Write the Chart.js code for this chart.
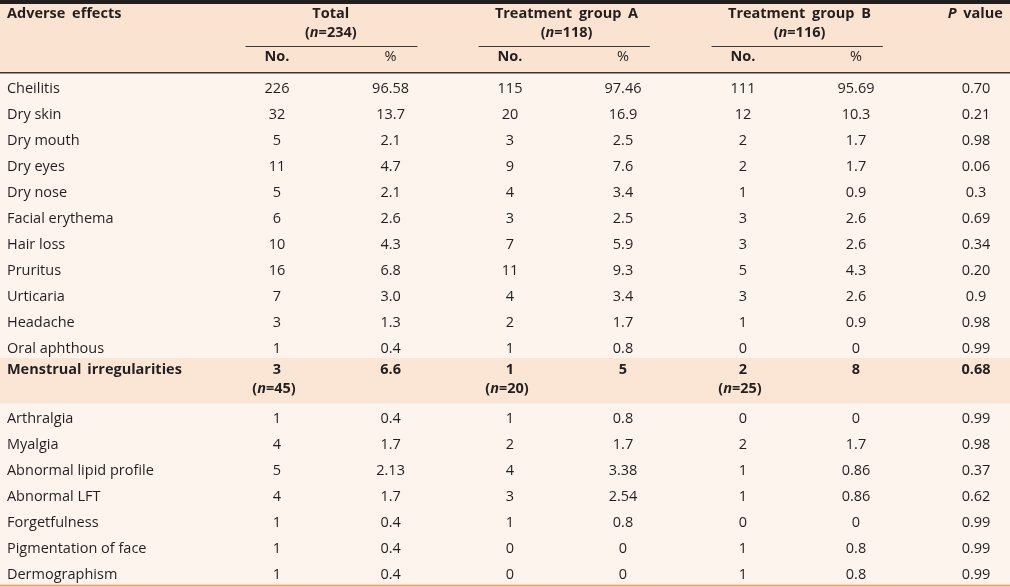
<!DOCTYPE html>
<html>
<head>
<meta charset="utf-8">
<script src="https://cdn.jsdelivr.net/npm/chart.js@4.4.0/dist/chart.umd.min.js"></script>
<style>
  html, body { margin: 0; padding: 0; background: #fdf4ee; }
  #tableChart { display: block; }
</style>
</head>
<body>
<canvas id="tableChart" width="1010" height="587"></canvas>
<script>
// table data
const effects = ['Cheilitis', 'Dry skin', 'Dry mouth', 'Dry eyes', 'Dry nose', 'Facial erythema', 'Hair loss',
  'Pruritus', 'Urticaria', 'Headache', 'Oral aphthous', 'Menstrual irregularities', 'Arthralgia', 'Myalgia',
  'Abnormal lipid profile', 'Abnormal LFT', 'Forgetfulness', 'Pigmentation of face', 'Dermographism'];
const totalNo   = ['226', '32', '5', '11', '5', '6', '10', '16', '7', '3', '1', '3', '1', '4', '5', '4', '1', '1', '1'];
const totalPct  = ['96.58', '13.7', '2.1', '4.7', '2.1', '2.6', '4.3', '6.8', '3.0', '1.3', '0.4', '6.6', '0.4', '1.7', '2.13', '1.7', '0.4', '0.4', '0.4'];
const groupANo  = ['115', '20', '3', '9', '4', '3', '7', '11', '4', '2', '1', '1', '1', '2', '4', '3', '1', '0', '0'];
const groupAPct = ['97.46', '16.9', '2.5', '7.6', '3.4', '2.5', '5.9', '9.3', '3.4', '1.7', '0.8', '5', '0.8', '1.7', '3.38', '2.54', '0.8', '0', '0'];
const groupBNo  = ['111', '12', '2', '2', '1', '3', '3', '5', '3', '1', '0', '2', '0', '2', '1', '1', '0', '1', '1'];
const groupBPct = ['95.69', '10.3', '1.7', '1.7', '0.9', '2.6', '2.6', '4.3', '2.6', '0.9', '0', '8', '0', '1.7', '0.86', '0.86', '0', '0.8', '0.8'];
const pValues   = ['0.70', '0.21', '0.98', '0.06', '0.3', '0.69', '0.34', '0.20', '0.9', '0.98', '0.99', '0.68', '0.99', '0.98', '0.37', '0.62', '0.99', '0.99', '0.99'];
const groupNames = ['Total', 'Treatment group A', 'Treatment group B'];
const groupN     = ['234', '118', '116'];
const subHeads   = ['No.', '%'];
const highlightRow = 11;                 // menstrual irregularities, women only
const highlightN   = ['45', '20', '25']; // n per group for that row

const columns = [effects, totalNo, totalPct, groupANo, groupAPct, groupBNo, groupBPct, pValues];

// layout (scale units: one column step, one row step)
const colX = [-1.318, 1, 1.975, 3, 3.97, 5, 5.97, 7];
const rowPos = [];
let acc = 0;
effects.forEach((_, i) => {
  if (i === highlightRow) { rowPos.push(acc - 0.2); acc += 1.7; }
  else { rowPos.push(acc); acc += 1; }
});
const yMin = -3.385, yMax = yMin + 587 / 26;
const xMin = 1 - 277 / 116.5, xMax = xMin + 1010 / 116.5;

const FONT = '"Open Sans", "Noto Sans", sans-serif';
const INK = '#231f20';

function drawRich(ctx, parts, x, y, align) {
  let w = 0;
  parts.forEach(p => { ctx.font = p.f; w += ctx.measureText(p.t).width; });
  let cx = align === 'center' ? x - w / 2 : align === 'right' ? x - w : x;
  ctx.textAlign = 'left';
  parts.forEach(p => { ctx.font = p.f; ctx.fillText(p.t, cx, y); cx += ctx.measureText(p.t).width; });
}

const tablePlugin = {
  id: 'tablePlugin',
  beforeDraw(chart) {
    const { ctx, scales: { x, y } } = chart;
    ctx.save();
    const W = chart.width;
    ctx.fillStyle = '#fdf4ee';
    ctx.fillRect(0, 0, W, chart.height);
    // header band
    ctx.fillStyle = '#fbe3d1';
    ctx.fillRect(0, 0, W, y.getPixelForValue(-0.62));
    // highlighted row band
    const hy = rowPos[highlightRow];
    ctx.fillStyle = '#fbe6d6';
    ctx.fillRect(0, y.getPixelForValue(hy - 0.42), W, y.getPixelForValue(hy + 1.32) - y.getPixelForValue(hy - 0.42));
    // top rule
    ctx.fillStyle = INK;
    ctx.fillRect(0, 0, W, 4);
    // header bottom rule
    ctx.fillStyle = '#3a3433';
    ctx.fillRect(0, Math.round(y.getPixelForValue(-0.62)), W, 1.5);
    // group underline rules
    [[1, 2], [3, 4], [5, 6]].forEach(([a, b]) => {
      const x0 = x.getPixelForValue(colX[a] - 0.27), x1 = x.getPixelForValue(colX[b] + 0.23);
      ctx.fillRect(x0, Math.round(y.getPixelForValue(-1.62)), x1 - x0, 1);
    });
    // bottom rule
    ctx.fillStyle = '#f3a46b';
    ctx.fillRect(0, y.getPixelForValue(19.1), W, 2);
    ctx.restore();
  },
  afterDatasetsDraw(chart) {
    const { ctx, scales: { x, y } } = chart;
    ctx.save();
    ctx.fillStyle = INK;
    ctx.textBaseline = 'middle';
    const hasWs = 'wordSpacing' in ctx;
    if (hasWs) ctx.wordSpacing = '3px';
    const reg = '14.5px ' + FONT, bold = 'bold 14.5px ' + FONT;
    const boldIt = 'italic bold 14.5px ' + FONT;
    // header row 1
    ctx.font = bold; ctx.textAlign = 'left';
    ctx.fillText('Adverse effects', x.getPixelForValue(colX[0]), y.getPixelForValue(-2.85));
    groupNames.forEach((g, k) => {
      const cx = (x.getPixelForValue(colX[2 * k + 1]) + x.getPixelForValue(colX[2 * k + 2])) / 2 - (k === 0 ? 3 : 0);
      ctx.font = bold; ctx.textAlign = 'center';
      ctx.fillText(g, cx, y.getPixelForValue(-2.85));
      drawRich(ctx, [{ t: '(', f: bold }, { t: 'n', f: boldIt }, { t: '=' + groupN[k] + ')', f: bold }],
        cx, y.getPixelForValue(-2.12), 'center');
      ctx.font = bold; ctx.textAlign = 'center';
      ctx.fillText(subHeads[0], x.getPixelForValue(colX[2 * k + 1]), y.getPixelForValue(-1.19));
      ctx.font = reg;
      ctx.fillText(subHeads[1], x.getPixelForValue(colX[2 * k + 2]), y.getPixelForValue(-1.19));
    });
    drawRich(ctx, [{ t: 'P', f: boldIt }, { t: ' value', f: bold }], x.getPixelForValue(7.23), y.getPixelForValue(-2.85), 'right');
    // body cells, placed at each dataset point
    if (hasWs) ctx.wordSpacing = '0px';
    chart.data.datasets.forEach((ds, c) => {
      const meta = chart.getDatasetMeta(c);
      meta.data.forEach((pt, i) => {
        const hl = i === highlightRow;
        ctx.font = hl ? bold : reg;
        if (hasWs) ctx.wordSpacing = hl ? '2px' : '0px';
        ctx.textAlign = c === 0 ? 'left' : 'center';
        ctx.fillText(ds.cells[i], pt.x, pt.y + 1);
      });
    });
    // n for the highlighted row
    highlightN.forEach((n, k) => {
      const px = x.getPixelForValue(colX[2 * k + 1]) - 3;
      drawRich(ctx, [{ t: '(', f: bold }, { t: 'n', f: boldIt }, { t: '=' + n + ')', f: bold }],
        px, y.getPixelForValue(rowPos[highlightRow] + 0.79), 'center');
    });
    ctx.restore();
  }
};

new Chart(document.getElementById('tableChart'), {
  type: 'scatter',
  data: {
    datasets: columns.map((col, c) => ({
      label: 'col' + c,
      cells: col,
      data: col.map((_, i) => ({ x: colX[c], y: rowPos[i] })),
      pointRadius: 0,
      pointHoverRadius: 0
    }))
  },
  options: {
    responsive: false,
    animation: false,
    events: [],
    layout: { padding: 0 },
    plugins: { legend: { display: false }, tooltip: { enabled: false } },
    scales: {
      x: { type: 'linear', display: false, min: xMin, max: xMax },
      y: { type: 'linear', display: false, reverse: true, min: yMin, max: yMax }
    }
  },
  plugins: [tablePlugin]
});
</script>
</body>
</html>
